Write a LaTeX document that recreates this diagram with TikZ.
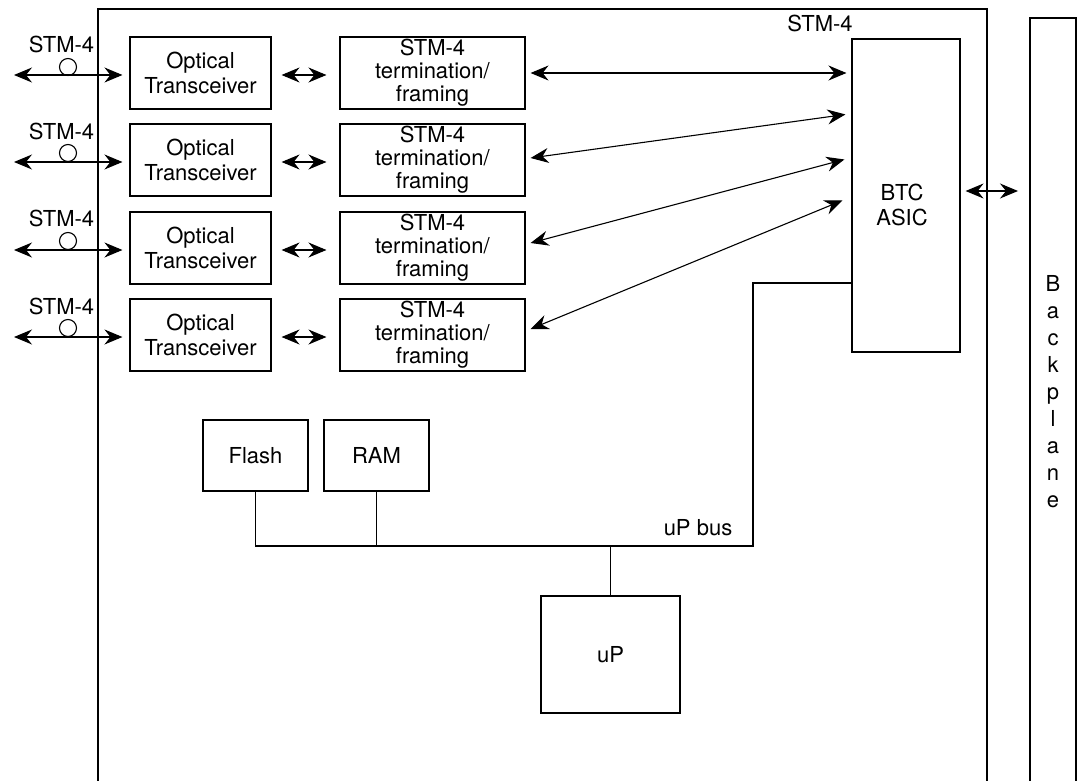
\documentclass[tikz,border=0pt]{standalone}
\usepackage{fontspec}
\setmainfont{TeX Gyre Heros}
\usetikzlibrary{arrows.meta}
\begin{document}
\begin{tikzpicture}[x=1pt,y=-1pt,line width=1.1pt,
  txt/.style={font=\fontsize{22}{25}\selectfont},
  box/.style={draw,rectangle,inner sep=0pt,align=center,txt},
  lbl/.style={inner sep=0pt,txt},
  ring/.style={draw,circle,minimum size=17pt,inner sep=0pt},
  dbl/.style={{Stealth[length=18pt,width=15pt,inset=6pt]}-{Stealth[length=18pt,width=15pt,inset=6pt]}}]
\useasboundingbox (0,0) rectangle (1081,781);
% board and backplane
\draw (98,781) -- (98,9) -- (987,9) -- (987,781);
\draw (1030,781) -- (1030,18) -- (1076,18) -- (1076,781);
\node[lbl,align=center,font=\fontsize{22}{27}\selectfont] (bptext) at (1053,392) {B\\a\\c\\k\\p\\l\\a\\n\\e};
% rows
\foreach \i/\y/\ly/\cy in {1/73/44/67, 2/160/131/153, 3/248/218/241, 4/335/306/328}{
  \node[box,minimum width=141pt,minimum height=72pt] (ot\i) at (200.5,\y) {Optical\\Transceiver};
  \node[box,minimum width=185pt,minimum height=72pt,font=\fontsize{22}{23}\selectfont] (term\i) at (432.5,\y) {STM-4\\termination/\\framing};
  \coordinate (in\i) at (14,\y+2);
  \node[ring] (c\i) at (68,\cy) {};
  \node[lbl] (s\i) at (61.5,\ly) {STM-4};
  \draw[dbl] (in\i) -- ([xshift=-7pt,yshift=-2pt]ot\i.west);
  \draw[dbl] ([xshift=10pt,yshift=-2pt]ot\i.east) -- ([xshift=-13pt,yshift=-2pt]term\i.west);
}
% BTC ASIC
\node[box,minimum width=108pt,minimum height=313pt] (btc) at (906,195.5) {};
\node[lbl,align=center] (btctext) at (902,205) {BTC\\ASIC};
\node[lbl] (stmtop) at (820,23) {STM-4};
\draw[dbl] ([xshift=5pt]term1.east) -- ([xshift=-5pt]btc.west |- term1.east);
\draw[dbl] ([xshift=5pt,yshift=2pt]term2.east) -- ([xshift=-6pt,yshift=-76pt]btc.north west);
\draw[dbl] ([xshift=5pt,yshift=5pt]term3.east) -- ([xshift=-7pt,yshift=-121pt]btc.north west);
\draw[dbl] ([xshift=5pt,yshift=6pt]term4.east) -- ([xshift=-9pt,yshift=-162pt]btc.north west);
\coordinate (bpin) at (1018,191);
\draw[dbl] ([xshift=5pt]btc.east |- bpin) -- (bpin);
% memory and processor
\node[box,minimum width=105pt,minimum height=71pt] (flash) at (255.5,455.5) {Flash};
\node[box,minimum width=105pt,minimum height=71pt] (ram) at (376.5,455.5) {RAM};
\node[box,minimum width=139pt,minimum height=117pt] (up) at (610.5,654.5) {uP};
\coordinate (busL) at (255.5,546);
\coordinate (busR) at (753,546);
\coordinate (busT) at (753,283);
\draw (flash.south) -- (busL) -- (busR) -- (busT) -- (btc.west |- busT);
\draw (ram.south) -- (ram.south |- busL);
\draw (up.north) -- (up.north |- busL);
\node[lbl] (buslbl) at (698,528) {uP bus};
\end{tikzpicture}
\end{document}
